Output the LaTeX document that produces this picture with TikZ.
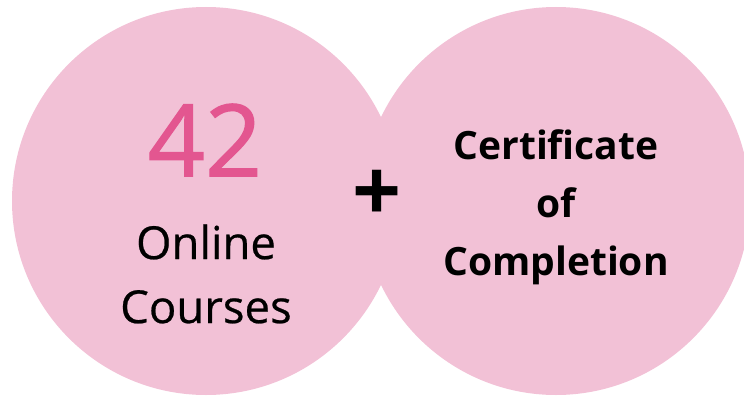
\documentclass[tikz,border=0pt]{standalone}
\usepackage{fontspec}
\setmainfont{Open Sans}
\newfontfamily\numfont[FakeBold=1.2]{Open Sans}
\newfontfamily\labfont[FakeBold=0.5]{Open Sans}
\definecolor{disc}{HTML}{F2C1D6}
\definecolor{num}{HTML}{E35690}
\begin{document}
\begin{tikzpicture}[x=1pt,y=-1pt,
  circ/.style={circle,fill=disc,draw=none,minimum size=388pt,inner sep=0pt},
  txt/.style={align=center,text=black,inner sep=0pt}]
\useasboundingbox (0,0) rectangle (744,396);
\node[circ] (l) at (206,201) {};
\node[circ] (r) at (556,201) {};
\node[txt,text=num,font=\numfont\fontsize{100}{100}\selectfont] (n) at (205,140) {42};
\node[txt,font=\labfont\fontsize{45.5}{64}\selectfont] (o) at (206,274) {Online\\Courses};
\node[txt,font=\bfseries\fontsize{39}{58}\selectfont] (c) at (556,207) {Certificate\\of\\Completion};
\node[txt,font=\bfseries\fontsize{86}{86}\selectfont] (p) at (377,196) {+};
\end{tikzpicture}
\end{document}
